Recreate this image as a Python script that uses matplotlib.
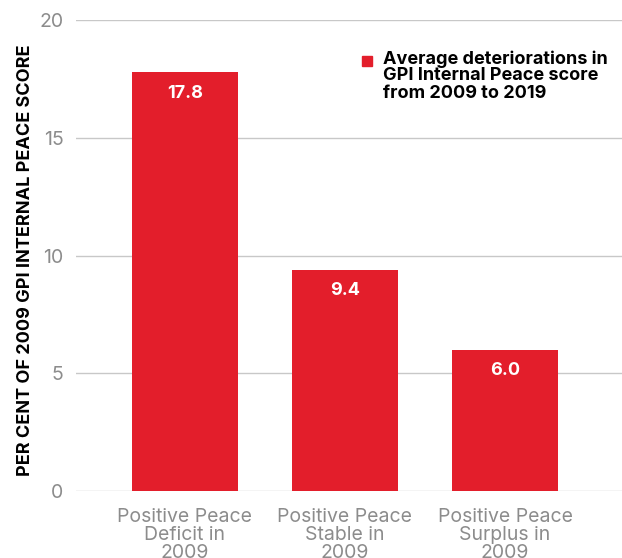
import matplotlib.pyplot as plt
from matplotlib.patches import Rectangle
import numpy as np

categories = ['Positive Peace\nDeficit in\n2009', 'Positive Peace\nStable in\n2009', 'Positive Peace\nSurplus in\n2009']
values = [17.8, 9.4, 6.0]
legend_label = 'Average deteriorations in\nGPI Internal Peace score\nfrom 2009 to 2019'
ylabel = 'PER CENT OF 2009 GPI INTERNAL PEACE SCORE'

red = '#e31e2b'
grey = '#8c8c8c'

plt.rcParams['font.family'] = ['Inter', 'DejaVu Sans']

fig = plt.figure(figsize=(6.22, 5.58), dpi=100)
ax = fig.add_axes([0.122, 0.12, 0.878, 0.844])

x = np.arange(len(values))
bars = ax.bar(x, values, width=0.66, color=red, zorder=3)

for xi, v in zip(x, values):
    ax.text(xi, v - 0.9, f'{v:.1f}', ha='center', va='center', color='white',
            fontsize=13, fontweight='bold', zorder=4)

ax.set_ylim(0, 20)
ax.set_xlim(-0.68, 2.73)
ax.set_yticks([0, 5, 10, 15, 20])
ax.grid(True, axis='y', color='#c8c8c8', linewidth=1, zorder=0)
for s in ax.spines.values():
    s.set_visible(False)
ax.tick_params(axis='y', length=0, pad=9, labelsize=14, labelcolor=grey)
ax.tick_params(axis='x', length=0, pad=12, labelsize=14, labelcolor=grey)
ax.set_xticks(x)
ax.set_xticklabels(categories, linespacing=1.0)

ax.set_ylabel(ylabel, fontsize=13, fontweight='bold', color='black')
ax.yaxis.set_label_coords(-0.077, 0.49)

# legend: square aligned with first line
fig.patches.append(Rectangle((362 / 622, 1 - 66 / 558), 10 / 622, 10 / 558,
                             transform=fig.transFigure, color=red))
fig.text(383 / 622, 1 - 50 / 558, legend_label, ha='left', va='top', fontsize=13,
         fontweight='bold', color='black', linespacing=1.0)

fig.savefig('out.png', dpi=100)
